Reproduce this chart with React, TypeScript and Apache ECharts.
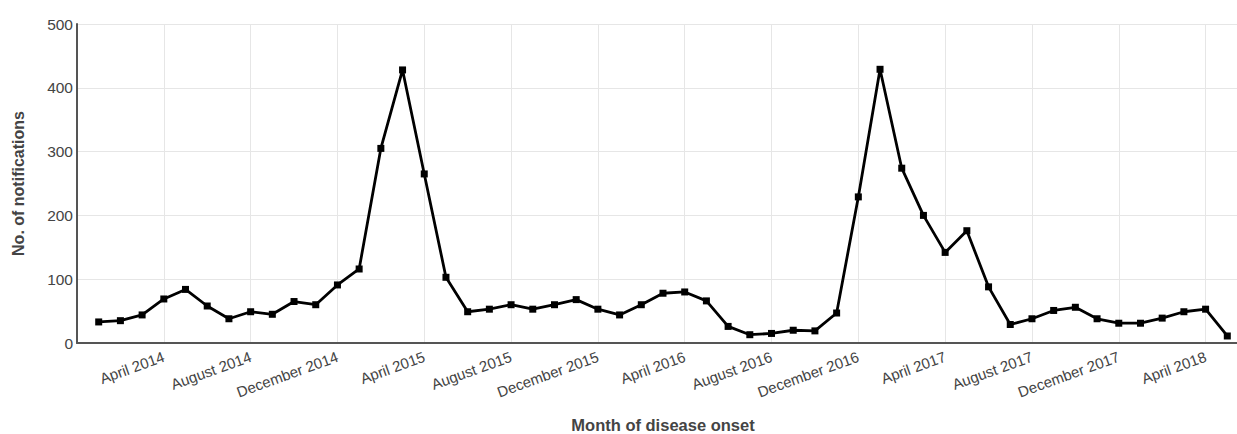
import React, { useEffect, useRef } from "react";
import * as echarts from "echarts";

const monthNames = [
  "January", "February", "March", "April", "May", "June",
  "July", "August", "September", "October", "November", "December",
];

// Axis spans December 2013 .. June 2018 (padding months hold no data)
const startYear = 2013;
const startMonth = 11; // December
const monthCount = 55;

const categories: string[] = [];
for (let i = 0; i < monthCount; i++) {
  const m = (startMonth + i) % 12;
  const y = startYear + Math.floor((startMonth + i) / 12);
  categories.push(`${monthNames[m]} ${y}`);
}

const values2014 = [33, 35, 44, 69, 84, 58, 38, 49, 45, 65, 60, 91];
const values2015 = [116, 305, 428, 265, 103, 49, 53, 60, 53, 60, 68, 53];
const values2016 = [44, 60, 78, 80, 66, 26, 13, 15, 20, 19, 47, 229];
const values2017 = [429, 274, 200, 142, 176, 88, 29, 38, 51, 56, 38, 31];
const values2018 = [31, 39, 49, 53, 11];

const seriesValues: (number | null)[] = [
  null,
  ...values2014,
  ...values2015,
  ...values2016,
  ...values2017,
  ...values2018,
  null,
];

const labelEvery = (index: number) => index >= 4 && (index - 4) % 4 === 0;

const FONT = "Liberation Sans, Arial, sans-serif";

export default function App() {
  const ref = useRef<HTMLDivElement>(null);
  useEffect(() => {
    if (!ref.current) return;
    const chart = echarts.init(ref.current, undefined, { renderer: "svg" });
    chart.setOption({
      animation: false,
      backgroundColor: "#ffffff",
      grid: {
        left: 77,
        right: 0,
        top: 24,
        bottom: 91,
        containLabel: false,
        outerBoundsMode: "none",
      },
      xAxis: {
        type: "category",
        data: categories,
        boundaryGap: false,
        name: "Month of disease onset",
        nameLocation: "middle",
        nameGap: 73,
        nameTextStyle: {
          fontFamily: FONT,
          fontSize: 16.5,
          fontWeight: "bold",
          color: "#444444",
        },
        axisLine: { show: true, lineStyle: { color: "#555555", width: 2 } },
        axisTick: { show: false },
        axisLabel: {
          interval: (index: number) => labelEvery(index),
          rotate: 20,
          margin: 13,
          fontFamily: FONT,
          fontSize: 15,
          color: "#444444",
        },
        splitLine: {
          show: true,
          interval: (index: number) => labelEvery(index),
          lineStyle: { color: "#e6e6e6", width: 1 },
        },
      },
      yAxis: {
        type: "value",
        min: 0,
        max: 500,
        interval: 100,
        name: "No. of notifications",
        nameLocation: "middle",
        nameGap: 51,
        nameTextStyle: {
          fontFamily: FONT,
          fontSize: 16,
          fontWeight: "bold",
          color: "#444444",
        },
        axisLine: { show: true, lineStyle: { color: "#555555", width: 2 } },
        axisTick: { show: false },
        axisLabel: {
          margin: 4,
          fontFamily: FONT,
          fontSize: 15.5,
          color: "#444444",
        },
        splitLine: { show: true, lineStyle: { color: "#e6e6e6", width: 1 } },
      },
      series: [
        {
          type: "line",
          data: seriesValues,
          connectNulls: false,
          symbol: "rect",
          symbolSize: 7,
          showSymbol: true,
          itemStyle: { color: "#000000" },
          lineStyle: { color: "#000000", width: 2.8 },
        },
      ],
    });
    return () => chart.dispose();
  }, []);
  return (
    <div
      style={{
        position: "absolute",
        left: 0,
        top: 0,
        width: 1237,
        height: 434,
        overflow: "hidden",
      }}
    >
      <div ref={ref} style={{ width: 1249, height: 434 }} />
    </div>
  );
}
